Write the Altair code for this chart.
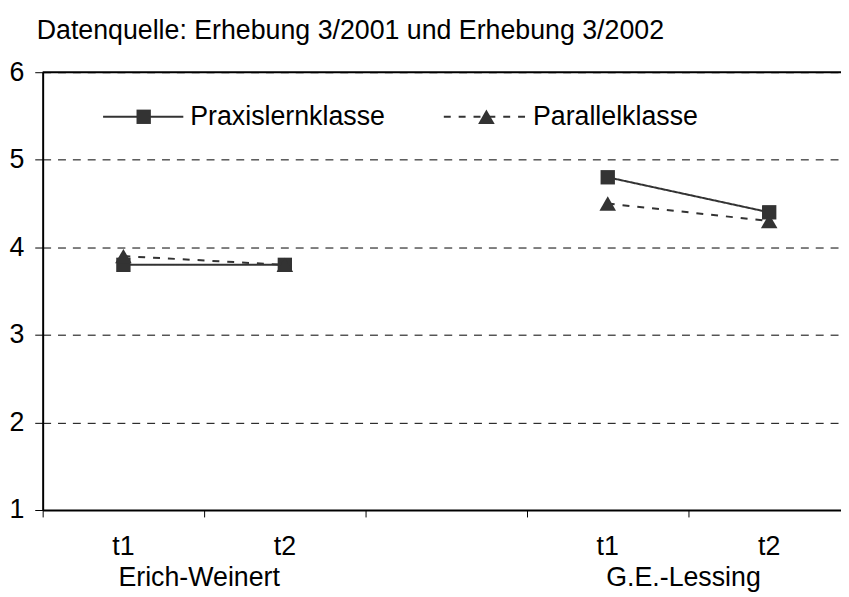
import altair as alt
import pandas as pd

schools = ["Erich-Weinert", "G.E.-Lessing"]
times = ["t1", "t2"]
series = ["Praxislernklasse", "Parallelklasse"]
praxis = [3.8, 3.8, 4.8, 4.4]
parallel = [3.9, 3.8, 4.5, 4.3]
categories = ["Erich-Weinert|t1", "Erich-Weinert|t2", "gap", "G.E.-Lessing|t1", "G.E.-Lessing|t2"]
y_ticks = [1, 2, 3, 4, 5, 6]
title_text = "Datenquelle: Erhebung 3/2001 und Erhebung 3/2002"

rows = []
for s_name, vals in zip(series, [praxis, parallel]):
    i = 0
    for sc in schools:
        for t in times:
            rows.append({"cat": f"{sc}|{t}", "school": sc, "series": s_name, "value": vals[i]})
            i += 1
df = pd.DataFrame(rows)

groups_df = pd.DataFrame({"cat": [f"{sc}|t1" for sc in schools], "label": schools})

FONT = "Liberation Sans"
FS = 27
INK = "#333333"
DASH = [7, 8]
BAND = 163
SQ = 210
TRI = 280

xscale = alt.Scale(domain=categories, type="band", range=[0, 5 * BAND], paddingInner=0, paddingOuter=0)
yscale = alt.Scale(domain=[1, 6], nice=False, zero=False)

x_axis = alt.Axis(
    title=None,
    labelExpr="indexof(datum.value,'|')>=0 ? split(datum.value,'|')[1] : ''",
    bandPosition=0,
    domainColor="black", domainWidth=2,
    tickColor="black", tickWidth=1, tickSize=7,
    labelFontSize=FS, labelFont=FONT, labelColor="black",
    labelPadding=17, labelAngle=0,
    grid=False,
)
y_axis = alt.Axis(
    title=None, values=y_ticks,
    grid=True, gridDash=[8, 7], gridColor="black", gridWidth=1, gridOpacity=1,
    domainColor="black", domainWidth=2,
    tickColor="black", tickWidth=1, tickSize=8,
    labelFontSize=FS, labelFont=FONT, labelColor="black", labelPadding=11,
)

x_enc = alt.X("cat:N", scale=xscale, axis=x_axis, sort=categories)
y_enc = alt.Y("value:Q", scale=yscale, axis=y_axis)

lines = alt.Chart(df).mark_line(color=INK, strokeWidth=2).encode(
    x=x_enc, y=y_enc, detail="school:N",
    strokeDash=alt.StrokeDash("series:N", scale=alt.Scale(domain=series, range=[[1, 0], DASH]), legend=None),
)
points = alt.Chart(df).mark_point(filled=True, opacity=1, color=INK).encode(
    x=x_enc, y=y_enc,
    shape=alt.Shape("series:N", scale=alt.Scale(domain=series, range=["square", "triangle-up"]), legend=None),
    size=alt.Size("series:N", scale=alt.Scale(domain=series, range=[SQ, TRI]), legend=None),
)
top_rule = alt.Chart(pd.DataFrame({"value": [6]})).mark_rule(color="black", strokeWidth=2).encode(
    y=y_enc
)
group_labels = alt.Chart(groups_df).mark_text(
    font=FONT, fontSize=FS, color="black", align="center", baseline="alphabetic", dx=BAND / 2 - 5
).encode(
    x=x_enc,
    y=alt.value(519),
    text="label:N",
)

# legend
leg_y = 45
leg1_line = alt.Chart(pd.DataFrame({"s": [series[0]]})).mark_rule(color=INK, strokeWidth=2).encode(
    x=alt.value(61), x2=alt.value(142), y=alt.value(leg_y))
leg1_pt = alt.Chart(pd.DataFrame({"s": [series[0]]})).mark_point(
    filled=True, opacity=1, color=INK, size=SQ, shape="square").encode(x=alt.value(102), y=alt.value(leg_y))
leg1_txt = alt.Chart(pd.DataFrame({"s": [series[0]]})).mark_text(
    font=FONT, fontSize=FS, color="black", align="left", baseline="middle").encode(
    x=alt.value(149), y=alt.value(leg_y), text="s:N")
leg2_line = alt.Chart(pd.DataFrame({"s": [series[1]]})).mark_rule(color=INK, strokeWidth=2, strokeDash=DASH).encode(
    x=alt.value(405), x2=alt.value(489), y=alt.value(leg_y))
leg2_pt = alt.Chart(pd.DataFrame({"s": [series[1]]})).mark_point(
    filled=True, opacity=1, color=INK, size=TRI, shape="triangle-up").encode(x=alt.value(448), y=alt.value(leg_y))
leg2_txt = alt.Chart(pd.DataFrame({"s": [series[1]]})).mark_text(
    font=FONT, fontSize=FS, color="black", align="left", baseline="middle").encode(
    x=alt.value(495), y=alt.value(leg_y), text="s:N")

chart = alt.layer(
    lines, points, top_rule, group_labels,
    leg1_line, leg1_pt, leg1_txt, leg2_line, leg2_pt, leg2_txt,
).properties(
    width=806, height=442,
    title=alt.TitleParams(title_text, anchor="start", fontSize=FS, fontWeight="normal", font=FONT,
                          color="black", dx=-6, offset=14, frame="group"),
    autosize=alt.AutoSizeParams(type="none"),
    padding={"left": 35, "top": 62, "right": 0, "bottom": 85},
).configure(font=FONT, background="white").configure_view(stroke=None)

chart.save("out.html", embed_options={"renderer": "svg", "actions": False})
